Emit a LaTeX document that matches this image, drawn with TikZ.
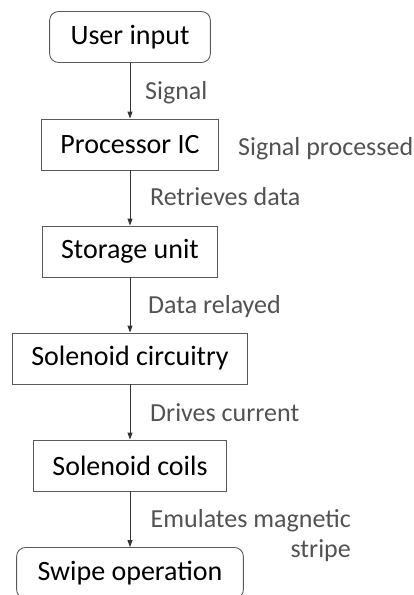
\documentclass[tikz,border=0pt]{standalone}
\usepackage{fontspec}
\setmainfont{Carlito}
\usetikzlibrary{arrows.meta,positioning}

\begin{document}
\begin{tikzpicture}[x=1pt,y=-1pt,
    block/.style={draw=black!65, line width=0.9pt, minimum height=51pt, inner xsep=19pt,
      font=\fontsize{28}{32}\selectfont},
    term/.style={block, rounded corners=9pt, inner xsep=21pt},
    flow/.style={-{Triangle[length=7pt,width=5pt]}, line width=0.9pt, draw=black!80},
    note/.style={anchor=base west, inner sep=0pt, text=black!68,
      font=\fontsize{26}{30}\selectfont}]
    \useasboundingbox (0,0) rectangle (413,595);

    % Blocks
    \node[term]  (user)  at (130,37)    {User input};
    \node[block] (proc)  at (130,144.5) {Processor IC};
    \node[block] (store) at (130,251.5) {Storage unit};
    \node[block] (circ)  at (130,358.5) {Solenoid circuitry};
    \node[block] (coils) at (130,465.5) {Solenoid coils};
    \node[term]  (swipe) at (130,573)   {Swipe operation};

    % Connectors
    \draw[flow] (user) -- (proc);
    \draw[flow] (proc) -- (store);
    \draw[flow] (store) -- (circ);
    \draw[flow] (circ) -- (coils);
    \draw[flow] (coils) -- (swipe);

    % Labels
    \node[note] (sig)   at (145,99)  {Signal};
    \node[note] (sigp)  at (238,155) {Signal processed};
    \node[note] (retr)  at (150,205) {Retrieves data};
    \node[note] (relay) at (148,313) {Data relayed};
    \node[note] (drive) at (150,421) {Drives current};
    \node[note, anchor=base east] (emul)   at (351,527) {Emulates magnetic};
    \node[note, anchor=base east] (stripe) at (351,557) {stripe};
\end{tikzpicture}
\end{document}
